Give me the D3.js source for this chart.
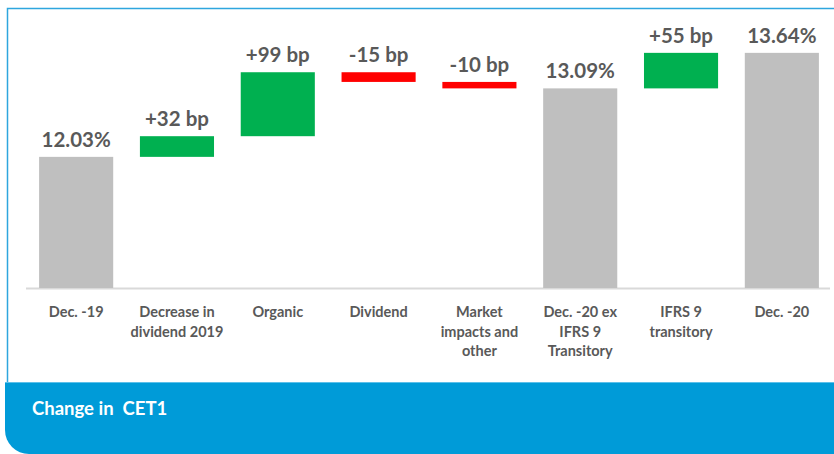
<!DOCTYPE html>
<html>
<head>
<meta charset="utf-8">
<script src="https://cdn.jsdelivr.net/npm/d3@7"></script>
<style>
  html, body { margin: 0; padding: 0; background: #ffffff; }
  svg { display: block; }
  text { white-space: pre; }
</style>
</head>
<body>
<svg id="chart" width="834" height="454"></svg>
<script>
// ---- data ----
const categories = [
  ["Dec. -19"],
  ["Decrease in", "dividend 2019"],
  ["Organic"],
  ["Dividend"],
  ["Market", "impacts and", "other"],
  ["Dec. -20 ex", "IFRS 9", "Transitory"],
  ["IFRS 9", "transitory"],
  ["Dec. -20"]
];
// type: "total" = bar from axis base, "delta" = floating step (value in bp)
const stepTypes = ["total", "delta", "delta", "delta", "delta", "total", "delta", "total"];
const stepValues = [12.03, 32, 99, -15, -10, 13.09, 55, 13.64];
const valueLabels = ["12.03%", "+32 bp", "+99 bp", "-15 bp", "-10 bp", "13.09%", "+55 bp", "13.64%"];
const yDomain = [10, 14];
const title = "Change in  CET1";

// ---- build waterfall segments ----
let running = 0;
const bars = stepValues.map((v, i) => {
  let lo, hi, kind;
  if (stepTypes[i] === "total") {
    running = v; lo = yDomain[0]; hi = v; kind = "total";
  } else {
    const start = running;
    running = +(running + v / 100).toFixed(4);
    lo = Math.min(start, running); hi = Math.max(start, running);
    kind = v >= 0 ? "up" : "down";
  }
  return { i, lo, hi, kind, label: valueLabels[i], cat: categories[i] };
});

const svg = d3.select("#chart");
const W = 834, H = 454;

// ---- frame ----
svg.append("rect").attr("x", 7.5).attr("y", 8.5).attr("width", W).attr("height", 376)
  .attr("fill", "#ffffff").attr("stroke", "#2ea6de").attr("stroke-width", 1.5);

// bottom band with rounded bottom-left corner
const bx = 5, by = 382, r = 24;
svg.append("path")
  .attr("d", `M${bx},${by} H${W} V${H} H${bx + r} A${r},${r} 0 0 1 ${bx},${H - r} Z`)
  .attr("fill", "#009bd8");
svg.append("line").attr("x1", bx).attr("x2", W).attr("y1", by + 0.5).attr("y2", by + 0.5)
  .attr("stroke", "#5cc0ea").attr("stroke-width", 1);

svg.append("text").attr("x", 32).attr("y", 415)
  .attr("font-family", "Lato, 'Open Sans', sans-serif").attr("font-weight", "bold")
  .attr("font-size", 18.5).attr("fill", "#ffffff")
  .attr("xml:space", "preserve").text(title);

// ---- scales ----
const x = d3.scaleBand().domain(d3.range(categories.length)).range([26, 832]).paddingInner(0.265).paddingOuter(0.13);
const y = d3.scaleLinear().domain(yDomain).range([288, 29.6]);

const colors = { total: "#bfbfbf", up: "#00b050", down: "#ff0000" };

// axis baseline
svg.append("line").attr("x1", 26).attr("x2", 830).attr("y1", 288.5).attr("y2", 288.5)
  .attr("stroke", "#d9d9d9").attr("stroke-width", 2);

svg.append("g").selectAll("rect").data(bars).join("rect")
  .attr("x", d => x(d.i))
  .attr("width", x.bandwidth())
  .attr("y", d => y(d.hi))
  .attr("height", d => y(d.lo) - y(d.hi))
  .attr("fill", d => colors[d.kind]);

// value labels
svg.append("g").selectAll("text").data(bars).join("text")
  .attr("x", d => x(d.i) + x.bandwidth() / 2)
  .attr("y", d => y(d.hi) - 10)
  .attr("text-anchor", "middle")
  .attr("font-family", "Lato, 'Open Sans', sans-serif").attr("font-weight", "bold")
  .attr("font-size", 20.5).attr("fill", "#595959")
  .text(d => d.label);

// category labels
const catG = svg.append("g").selectAll("text").data(bars).join("text")
  .attr("text-anchor", "middle")
  .attr("font-family", "Lato, 'Open Sans', sans-serif").attr("font-weight", "bold")
  .attr("font-size", 14.5).attr("fill", "#595959");
catG.each(function (d) {
  const t = d3.select(this);
  d.cat.forEach((line, k) => {
    t.append("tspan").attr("x", x(d.i) + x.bandwidth() / 2).attr("y", 317 + k * 19.5).text(line);
  });
});
</script>
</body>
</html>
